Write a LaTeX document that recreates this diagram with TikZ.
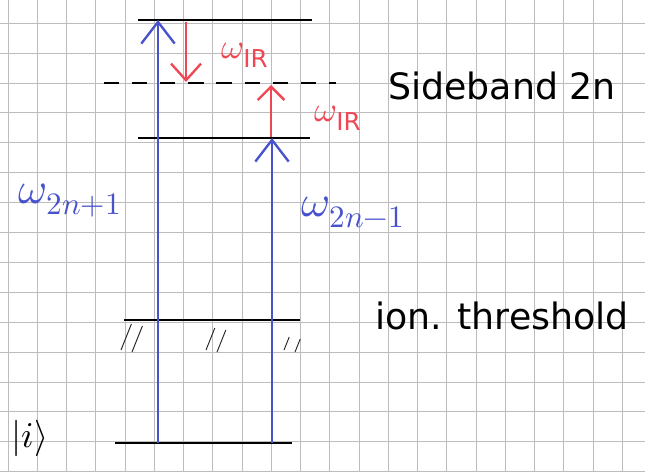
\documentclass[tikz,border=0pt]{standalone}
\usepackage{fontspec}
\usepackage{unicode-math}
\setmainfont{DejaVu Sans}
\setmathfont{Latin Modern Math}
\usetikzlibrary{arrows.meta}
\definecolor{penblue}{RGB}{72,82,205}
\definecolor{penred}{RGB}{238,72,84}
\definecolor{gridgrey}{RGB}{188,188,188}
\begin{document}
\begin{tikzpicture}[x=0.03cm, y=-0.03cm,
        gridline/.style={line width=0.5pt, gridgrey},
        level/.style={line width=1.5pt, black},
        sideband/.style={line width=1.5pt, black, dash pattern=on 13pt off 11pt},
        pump/.style={line width=2pt, penblue, -{Straight Barb[length=6.5mm, width=10mm]}},
        irdown/.style={line width=2pt, penred, -{Straight Barb[length=5mm, width=9mm]}},
        irup/.style={line width=2pt, penred, -{Straight Barb[length=4mm, width=8mm]}},
        breakmark/.style={line width=0.8pt, black!85},
        plbl/.style={text=penblue, inner sep=0pt, font=\fontsize{38}{40}\selectfont},
        irlbl/.style={text=penred, inner sep=0pt, font=\fontsize{30}{32}\selectfont},
        txt/.style={inner sep=0pt, font=\fontsize{31}{34}\selectfont}
    ]
    \useasboundingbox (0,0) rectangle (645,472);
    \fill[white] (0,0) rectangle (645,472);

    % squared paper
    \foreach \gx in {0,...,21}
        \draw[gridline] ({8+29.25*\gx},0) -- ({8+29.25*\gx},472);
    \foreach \gy in {0,...,15}
        \draw[gridline] (0,{23+29.9*\gy}) -- (645,{23+29.9*\gy});

    % levels
    \coordinate (upL) at (138,20);  \coordinate (upR) at (312,20);
    \coordinate (sbL) at (104,83);  \coordinate (sbR) at (336,83);
    \coordinate (loL) at (138,138); \coordinate (loR) at (310,138);
    \coordinate (thL) at (124,320); \coordinate (thR) at (300,320);
    \coordinate (gsL) at (115,443); \coordinate (gsR) at (292,443);

    \draw[level] (upL) -- (upR);
    \draw[sideband] (sbL) -- (sbR);
    \draw[level] (loL) -- (loR);
    \draw[level] (thL) -- (thR);
    \draw[level] (gsL) -- (gsR);

    % continuum breaks under the threshold
    \foreach \bx/\bh in {121/26, 206/22, 284/13}{
        \draw[breakmark] (\bx,350) -- ++(0.4*\bh,-\bh);
        \draw[breakmark] (\bx+11,352) -- ++(0.4*\bh,-\bh);
    }

    % transitions
    \coordinate (pA0) at (158,443); \coordinate (pA1) at (158,20);
    \coordinate (pB0) at (272,443); \coordinate (pB1) at (272,138);
    \coordinate (dA0) at (186,22);  \coordinate (dA1) at (186,82);
    \coordinate (uB0) at (271,137); \coordinate (uB1) at (271,85);

    \draw[pump] (pA0) -- (pA1);
    \draw[pump] (pB0) -- (pB1);
    \draw[irdown] (dA0) -- (dA1);
    \draw[irup] (uB0) -- (uB1);

    % labels
    \node[plbl] (wOdd) at (70,200) {$\omega_{2n+1}$};
    \node[plbl] (wEven) at (353,212) {$\omega_{2n-1}$};
    \node[irlbl] (irA) at (245,55) {$\omega_{\mathrm{IR}}$};
    \node[irlbl] (irB) at (338,118) {$\omega_{\mathrm{IR}}$};
    \node[txt] (sb) at (502,86) {Sideband 2n};
    \node[txt] (th) at (502,316) {ion. threshold};
    \node[txt] (ket) at (30,438) {$|i\rangle$};
\end{tikzpicture}
\end{document}
